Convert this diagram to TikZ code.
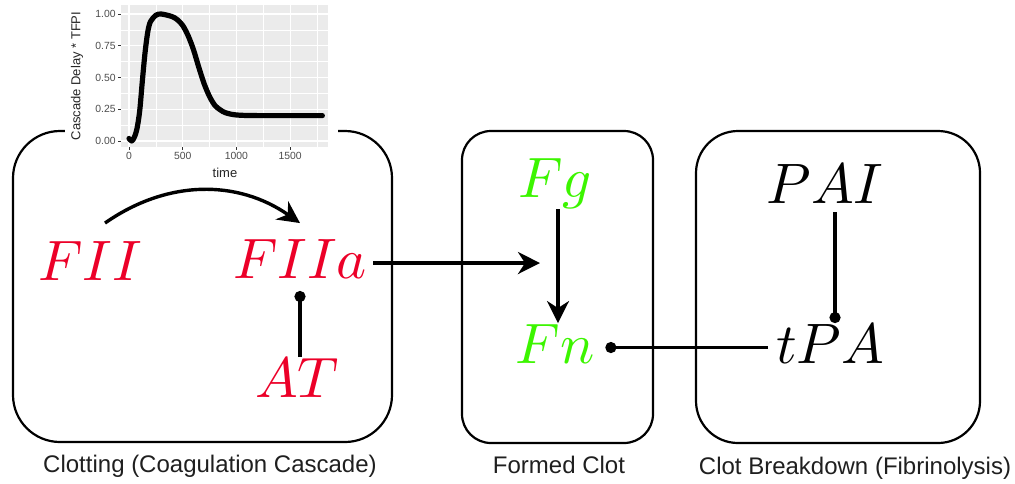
\documentclass[tikz,border=0pt]{standalone}
\usepackage{graphicx}
\usepackage{fontspec}
\newfontfamily\lsans{Liberation Sans}
\usetikzlibrary{arrows.meta,calc}
\definecolor{fred}{RGB}{236,0,40}
\definecolor{fgreen}{RGB}{60,245,0}
\definecolor{panelgrey}{RGB}{235,235,235}
\definecolor{tickgrey}{RGB}{77,77,77}
\definecolor{tickmark}{RGB}{51,51,51}
\newcommand{\speciesmath}[1]{\scalebox{2.85}{$#1$}}
\begin{document}
\begin{tikzpicture}[x=0.5pt,y=-0.5pt,
  box/.style={draw=black, line width=1.1pt, inner sep=0pt, outer sep=0pt},
  mlabel/.style={inner sep=0pt, outer sep=0pt, anchor=base},
  caption/.style={font=\lsans\fontsize{12}{14}\selectfont, anchor=base, text=black!88, inner sep=0pt},
  conn/.style={line width=1.7pt},
  arr/.style={conn, -{Stealth[length=11pt,width=11pt,inset=3.5pt]}},
  dotend/.style={conn, -{Circle[length=5.5pt]}},
  ticklab/.style={font=\lsans\fontsize{5.2}{6}\selectfont, text=tickgrey, inner sep=0pt},
  axtitle/.style={font=\lsans\fontsize{6.5}{7}\selectfont, text=black!85, inner sep=0pt},
]
\useasboundingbox (0,0) rectangle (1015,483);

% containers
\node[box, rounded corners=23.5pt, minimum width=189.5pt, minimum height=155.5pt] (clotting) at (202.5,286.5) {};
\node[box, rounded corners=14.5pt, minimum width=95.5pt, minimum height=156pt] (formed) at (557.5,287) {};
\node[box, rounded corners=21pt, minimum width=142pt, minimum height=156pt] (breakdown) at (838,287) {};

% captions
\node[caption] (capA) at (210,472) {Clotting (Coagulation Cascade)};
\node[caption] (capB) at (559,473) {Formed Clot};
\node[caption] (capC) at (855,474) {Clot Breakdown (Fibrinolysis)};

% inset plot
\fill[white] (65,0) rectangle (338,182);
\fill[panelgrey] (121,5) rectangle (328,147);
\foreach \v in {0.125,0.375,0.625,0.875}
  \draw[white, line width=0.3pt] (121,{141-127*\v}) -- (328,{141-127*\v});
\foreach \t in {250,750,1250,1750}
  \draw[white, line width=0.3pt] ({129+0.1074*\t},5) -- ({129+0.1074*\t},147);
\foreach \v in {0,0.25,0.5,0.75,1}
  \draw[white, line width=0.6pt] (121,{141-127*\v}) -- (328,{141-127*\v});
\foreach \t in {0,500,1000,1500}
  \draw[white, line width=0.6pt] ({129+0.1074*\t},5) -- ({129+0.1074*\t},147);
\foreach \v/\l [count=\i] in {0/0.00,0.25/0.25,0.5/0.50,0.75/0.75,1/1.00}{
  \draw[tickmark, line width=0.5pt] (118,{141-127*\v}) -- (121,{141-127*\v});
  \node[ticklab, anchor=east] (ytick\i) at (116,{141-127*\v}) {\l};
}
\foreach \t [count=\i] in {0,500,1000,1500}{
  \draw[tickmark, line width=0.5pt] ({129+0.1074*\t},147) -- ({129+0.1074*\t},150);
  \node[ticklab, anchor=base] (xtick\i) at ({129+0.1074*\t},159) {\t};
}
\node[axtitle, anchor=base] (xtitle) at (225,177) {time};
\node[axtitle, rotate=90] (ytitle) at (77,76) {Cascade Delay * TFPI};
\begin{scope}[shift={(129,141)}, xscale=0.1074, yscale=127]
  \draw[line width=2.6pt, line join=round, line cap=round] plot[smooth, tension=0.5] coordinates {
    (0,-0.02) (25,0.0) (50,-0.03) (75,-0.1) (100,-0.24) (125,-0.48) (150,-0.7)
    (175,-0.86) (200,-0.94) (250,-0.99) (300,-1.0) (400,-0.98) (450,-0.955)
    (500,-0.91) (550,-0.83) (600,-0.72) (650,-0.58) (700,-0.45) (750,-0.35)
    (800,-0.28) (850,-0.245) (900,-0.222) (1000,-0.205) (1200,-0.2) (1800,-0.2)};
\end{scope}

% species
\node[mlabel, text=fred] (FII) at (90,280) {\speciesmath{FII}};
\node[mlabel, text=fred] (FIIa) at (300,278) {\speciesmath{FIIa}};
\node[mlabel, text=fred] (AT) at (297,397) {\speciesmath{AT}};
\node[mlabel, text=fgreen] (Fg) at (555,197) {\speciesmath{Fg}};
\node[mlabel, text=fgreen] (Fn) at (555,363) {\speciesmath{Fn}};
\node[mlabel] (PAI) at (825,203) {\speciesmath{PAI}};
\node[mlabel] (tPA) at (830,363) {\speciesmath{tPA}};

% connectors
\draw[arr] ($(FII.north)+(15,-18)$) to[bend left=35] ($(FIIa.north)+(0,-16)$);
\draw[arr] ($(FIIa.east)+(6.5,4.5)$) -- ($(FIIa.east -| Fg.south)+(-15,4.5)$);
\draw[dotend] ($(AT.north)+(3,-1)$) -- ($(AT.north |- FIIa.south)+(3,13)$);
\draw[arr] ($(Fg.south)+(3,1)$) -- ($(Fg.south |- Fn.north)+(3,-1)$);
\draw[dotend] ($(tPA.west)+(-8,4)$) -- ($(tPA.west -| Fn.east)+(11,4)$);
\draw[dotend] ($(tPA.north |- PAI.south)+(5,9)$) -- ($(tPA.north)+(5,-1)$);
\end{tikzpicture}
\end{document}
